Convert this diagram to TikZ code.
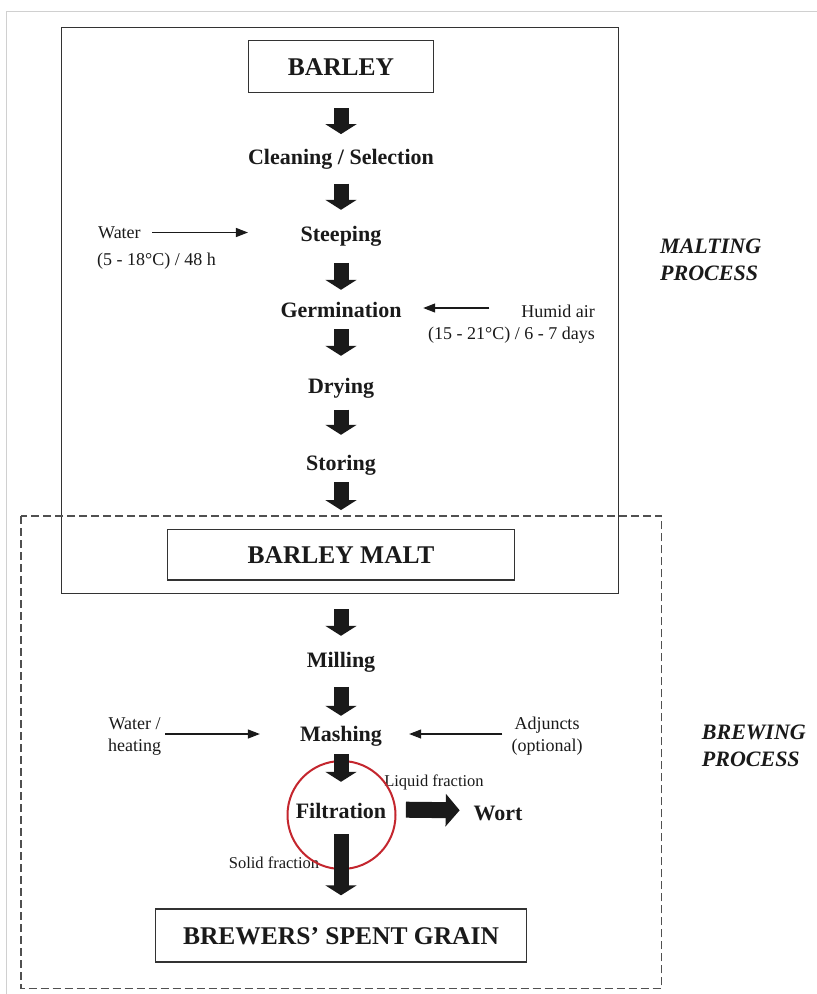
\documentclass[tikz,border=0pt]{standalone}
\usepackage{fontspec}
\setmainfont{Liberation Serif}
\usetikzlibrary{arrows.meta}
\definecolor{ink}{HTML}{1A1A1A}
\definecolor{boxline}{HTML}{333333}
\definecolor{dashline}{HTML}{505050}
\definecolor{framegray}{HTML}{D0D0D0}
\definecolor{circred}{HTML}{C4262E}
\begin{document}
\begin{tikzpicture}[x=1pt,y=-1pt,
  every node/.style={text=ink, inner sep=0pt},
  titlebox/.style={draw=boxline, line width=1.4pt, font=\fontsize{25.5}{30}\selectfont\bfseries, text height=19pt, text depth=1pt},
  stepnode/.style={font=\fontsize{22}{26}\selectfont\bfseries, text height=17pt, text depth=3pt},
  sidelabel/.style={font=\fontsize{18}{22}\selectfont},
  fraclabel/.style={font=\fontsize{16.5}{20}\selectfont},
  proclabel/.style={font=\fontsize{22}{26.7}\selectfont\bfseries\itshape, align=left},
  blk/.style={draw=ink, line width=15pt, -{Triangle[width=31pt,length=10pt]}},
  blkh/.style={draw=ink, line width=16pt, -{Triangle[width=32pt,length=14pt]}},
  thinarrow/.style={draw=ink, line width=1.2pt, -{Triangle[width=9pt,length=12pt]}},
  mainframe/.style={draw=boxline, line width=1.4pt},
  dashframe/.style={draw=dashline, line width=1.5pt, dash pattern=on 8pt off 4pt},
]
\useasboundingbox (0,0) rectangle (817,994);
\fill[white] (0,0) rectangle (817,994);
\draw[framegray, line width=1pt] (817,11) -- (6,11) -- (6,994);

% process frames
\draw[mainframe] (61.5,27.3) rectangle (618.7,593.3);
\draw[dashframe] (21,516) rectangle (661.7,988.3);

% main nodes
\node[titlebox, minimum width=185pt, minimum height=52pt] (barley) at (341,66.7) {BARLEY};
\node[stepnode] (clean) at (341,157) {Cleaning / Selection};
\node[stepnode] (steep) at (341,234.5) {Steeping};
\node[stepnode] (germ) at (341,310) {Germination};
\node[stepnode] (dry) at (341,386.7) {Drying};
\node[stepnode] (store) at (341,463.3) {Storing};
\node[titlebox, minimum width=346.5pt, minimum height=50.7pt] (malt) at (341,554.7) {BARLEY MALT};
\node[stepnode] (mill) at (341,660) {Milling};
\node[stepnode] (mash) at (341,734) {Mashing};
\node[stepnode] (filt) at (341,811.7) {Filtration};
\node[stepnode] (wort) at (498,813) {Wort};
\node[titlebox, minimum width=371pt, minimum height=53pt] (bsg) at (341,935.5) {BREWERS’ SPENT GRAIN};

% side labels
\node[sidelabel, anchor=west] (water) at (98,232.5) {Water};
\node[sidelabel, anchor=west] (watertemp) at (97,261) {(5 - 18°C) / 48 h};
\node[sidelabel, anchor=east, align=right] (humid) at (595,324.5) {Humid air\\(15 - 21°C) / 6 - 7 days};
\node[sidelabel, align=center] (wh) at (134.6,736) {Water /\\heating};
\node[sidelabel, align=center] (adj) at (547,736) {Adjuncts\\(optional)};
\node[fraclabel] (liquid) at (434,782.5) {Liquid fraction};
\node[fraclabel] (solid) at (274,862.5) {Solid fraction};
\node[proclabel, anchor=west] (mproc) at (660,259.5) {MALTING\\PROCESS};
\node[proclabel, anchor=west] (bproc) at (701.7,746) {BREWING\\PROCESS};

% red ring around filtration
\node[circle, draw=circred, line width=2pt, minimum size=108pt] (ring) at (341.5,815) {};

% block arrows
\draw[blk] ([yshift=-14.6pt]barley.south) -- ([yshift=12.7pt]clean.north);
\draw[blk] ([yshift=-16.3pt]clean.south) -- ([yshift=14.5pt]steep.north);
\draw[blk] ([yshift=-18.2pt]steep.south) -- ([yshift=10pt]germ.north);
\draw[blk] ([yshift=-9pt]germ.south) -- ([yshift=20.7pt]dry.north);
\draw[blk] ([yshift=-12.6pt]dry.south) -- ([yshift=18.3pt]store.north);
\draw[blk] ([yshift=-8.7pt]store.south) -- ([yshift=18.6pt]malt.north);
\draw[blk] ([yshift=-28.3pt]malt.south) -- ([yshift=14pt]mill.north);
\draw[blk] ([yshift=-16.7pt]mill.south) -- ([yshift=8pt]mash.north);
\draw[blk] ([yshift=-10pt]mash.south) -- ([yshift=19.7pt]filt.north);
\draw[blk] ([yshift=-12.3pt]filt.south) -- ([yshift=13pt]bsg.north);
\draw[blkh] ([xshift=19.5pt,yshift=2pt]filt.east) -- ([xshift=-13.7pt,yshift=2.7pt]wort.west);

% thin arrows
\draw[thinarrow] ([xshift=11.5pt]water.east) -- ([xshift=-52.5pt]water.east -| steep.west);
\draw[thinarrow] ([xshift=87.6pt,yshift=2pt]germ.east) -- ([xshift=21.5pt,yshift=2pt]germ.east);
\draw[thinarrow] ([xshift=4pt,yshift=2pt]wh.east) -- ([xshift=-40pt,yshift=2pt]wh.east -| mash.west);
\draw[thinarrow] ([xshift=-9pt,yshift=2pt]adj.west) -- ([xshift=27pt,yshift=2pt]adj.west -| mash.east);
\end{tikzpicture}
\end{document}
